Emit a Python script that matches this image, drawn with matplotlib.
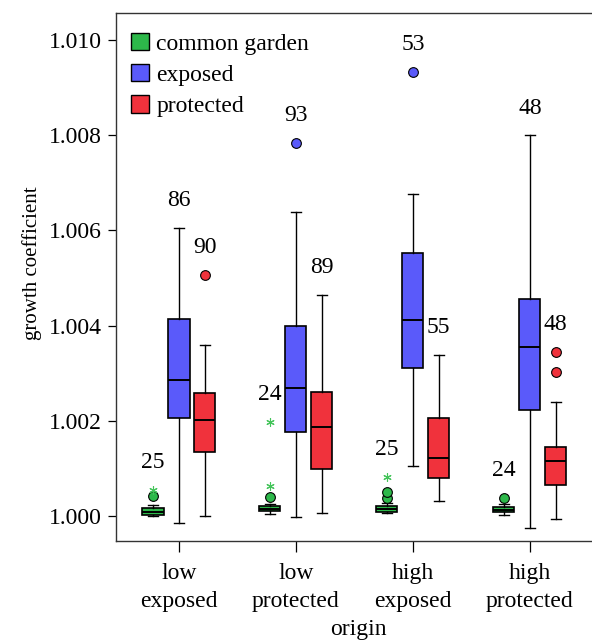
import numpy as np
import matplotlib
matplotlib.use("Agg")
import matplotlib.pyplot as plt
from matplotlib.patches import Patch

plt.rcParams['font.family'] = ['Liberation Serif', 'DejaVu Serif']

# origin groups (x axis)
origins = ["low\nexposed", "low\nprotected", "high\nexposed", "high\nprotected"]
treatments = ["common garden", "exposed", "protected"]
colors = ["#2db84a", "#5a5afa", "#f0323c"]

# growth coefficient minus 1, in units of 0.001
# each row: one treatment, four origins
whislo = [[-0.01, 0.04, 0.06, 0.02],
          [-0.15, -0.02, 1.05, -0.25],
          [0.00, 0.06, 0.32, -0.06]]
q1 = [[0.02, 0.10, 0.09, 0.08],
      [2.06, 1.76, 3.11, 2.23],
      [1.34, 0.99, 0.80, 0.65]]
med = [[0.08, 0.15, 0.15, 0.13],
       [2.86, 2.69, 4.12, 3.55],
       [2.02, 1.87, 1.22, 1.16]]
q3 = [[0.16, 0.20, 0.21, 0.19],
      [4.14, 3.99, 5.53, 4.56],
      [2.58, 2.60, 2.06, 1.45]]
whishi = [[0.23, 0.25, 0.27, 0.25],
          [6.05, 6.39, 6.76, 8.00],
          [3.59, 4.64, 3.38, 2.39]]
# circles (outliers)
outliers = [[[0.42], [0.40], [0.38, 0.50], [0.38]],
            [[], [7.84], [9.33], []],
            [[5.06], [], [], [3.03, 3.45]]]
# asterisks (extreme values)
extremes = [[[0.55], [0.63, 1.97], [0.82], []],
            [[], [], [], []],
            [[], [], [], []]]
# sample sizes
counts = [[25, 24, 25, 24],
          [86, 93, 53, 48],
          [90, 89, 55, 48]]

fig = plt.figure(figsize=(5.92, 6.41), dpi=100)
ax = fig.add_axes([116 / 592, 1 - 541 / 641, (600 - 116) / 592, (541 - 13) / 641])

offsets = [-0.222, 0.0, 0.22]
width = 0.18
positions = np.arange(1, len(origins) + 1)
fs = 17

for t in range(len(treatments)):
    stats = []
    for g in range(len(origins)):
        stats.append(dict(whislo=1 + whislo[t][g] / 1000, q1=1 + q1[t][g] / 1000,
                          med=1 + med[t][g] / 1000, q3=1 + q3[t][g] / 1000,
                          whishi=1 + whishi[t][g] / 1000,
                          fliers=[1 + v / 1000 for v in outliers[t][g]]))
    ax.bxp(stats, positions=positions + offsets[t], widths=width,
           capwidths=0.085, patch_artist=True, manage_ticks=False,
           boxprops=dict(facecolor=colors[t], edgecolor='black', linewidth=1.2),
           medianprops=dict(color='black', linewidth=1.4),
           whiskerprops=dict(color='black', linewidth=1.0),
           capprops=dict(color='black', linewidth=1.0),
           flierprops=dict(marker='o', markerfacecolor=colors[t],
                           markeredgecolor='black', markeredgewidth=0.8,
                           markersize=7))
    for g in range(len(origins)):
        x = positions[g] + offsets[t]
        ex = extremes[t][g]
        if ex:
            ax.plot([x] * len(ex), [1 + v / 1000 for v in ex], linestyle='none',
                    marker=(6, 2, 0), markersize=6, markeredgewidth=0.8,
                    color="#44c45a")
        top = max([whishi[t][g]] + outliers[t][g] + extremes[t][g])
        ax.text(x, 1 + (top + 0.57) / 1000, str(counts[t][g]),
                ha='center', va='center', fontsize=fs)

ax.set_xlim(0.4615, 4.6)
ax.set_ylim(0.99947, 1.01057)
ax.set_yticks([1.000, 1.002, 1.004, 1.006, 1.008, 1.010])
ax.set_yticklabels(["1.000", "1.002", "1.004", "1.006", "1.008", "1.010"], fontsize=fs)
ax.set_xticks(positions)
ax.set_xticklabels(origins, fontsize=fs, linespacing=1.4)
ax.tick_params(axis='y', direction='out', length=6, width=0.9, pad=4)
ax.tick_params(axis='x', direction='out', length=8, width=0.9, pad=8)
ax.set_xlabel("origin", fontsize=fs, labelpad=5.5)
ax.set_ylabel("growth coefficient", fontsize=15)
ax.yaxis.set_label_coords(-0.153, 0.527)
for s in ax.spines.values():
    s.set_color('#333333')
    s.set_linewidth(1.0)

handles = [Patch(facecolor=c, edgecolor='black', linewidth=1.0) for c in colors]
ax.legend(handles, treatments, loc='upper left', bbox_to_anchor=(0.0, 0.992),
          frameon=False, fontsize=fs, handlelength=0.76, handleheight=0.76,
          handletextpad=0.3, labelspacing=0.4, borderaxespad=0.25)

fig.savefig("out.png", dpi=100)
